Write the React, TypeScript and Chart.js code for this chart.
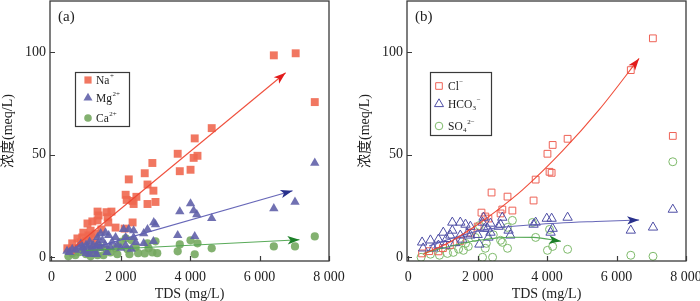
import React, { useEffect, useRef } from 'react';
import { Chart, registerables } from 'chart.js';

Chart.register(...registerables);

// ---------- axis ticks ----------
const xTickValues = [0, 2000, 4000, 6000, 8000];
const xTickLabels = ['0', '2 000', '4 000', '6 000', '8 000'];
const yTickValues = [0, 50, 100];
const yTickLabels = ['0', '50', '100'];

type Pt = [number, number];

// ---------- panel (a): cations, TDS (mg/L) vs meq/L ----------
const naPoints: Pt[] = [
  [6410, 98.5], [7040, 99.5], [7590, 75.7], [4130, 58], [4620, 63], [3640, 50.5], [4100, 48.5],
  [4210, 49.5], [3700, 42], [4010, 42.7], [2910, 46], [2690, 41], [2230, 38], [2770, 35.5],
  [2940, 32.5], [2770, 26], [3000, 27], [2140, 30.5], [2170, 28], [2340, 27.5], [2450, 29.5],
  [2370, 26], [1850, 14.5], [2340, 17], [2110, 14], [1730, 22.3], [1590, 22], [1620, 19.5],
  [1640, 17], [1330, 22.3], [1360, 20.4], [1330, 18], [1180, 17.5], [1440, 13.6], [1040, 16.5],
  [1130, 13], [920, 12], [1270, 11.5], [1070, 10.7], [890, 9.7], [750, 9.2], [840, 7.3],
  [600, 6.8], [460, 4.4], [560, 3.5], [650, 4.5], [1000, 8], [1150, 9.5], [1250, 7],
];
const mgPoints: Pt[] = [
  [7590, 46], [6410, 23.8], [7020, 27], [4620, 19], [4010, 26.2], [4100, 22.8], [4190, 20.9],
  [3700, 22.3], [3640, 10.7], [4130, 10.2], [2950, 17], [3000, 16], [2770, 13.6], [2660, 11.6],
  [2940, 7.8], [2080, 13.6], [2230, 13.6], [2370, 13], [2370, 9.7], [2140, 9.7], [1850, 9.7],
  [1650, 10.7], [1420, 11.6], [1470, 8.3], [2140, 5.8], [2430, 7.3], [2660, 6.8], [1560, 12],
  [1330, 9.7], [450, 3], [520, 2.5], [600, 4], [700, 3.5], [780, 5], [850, 6.5], [900, 4.5],
  [950, 3], [1000, 6], [1050, 5], [1100, 7.5], [1150, 4], [1200, 6], [1250, 3], [1300, 5.5],
  [1350, 7], [1400, 4.5], [1550, 6], [1700, 5], [1750, 7.5], [1900, 6], [1100, 1.5],
  [1300, 1.5], [1600, 2.5], [2000, 4.5], [2300, 4], [1000, 2],
];
const caPoints: Pt[] = [
  [7590, 10.2], [6410, 5.3], [7020, 5.3], [4620, 4.4], [4010, 8.3], [4130, 1.5], [4210, 6.8],
  [3700, 6.3], [3640, 2.9], [3000, 7.8], [2910, 2.4], [2690, 1.9], [2770, 6.8], [2800, 4.4],
  [2430, 4.9], [2190, 3.9], [2140, 9.2], [2310, 8.3], [1850, 4.4], [1700, 2.4], [1420, 4.9],
  [1330, 1], [1130, 0.5], [920, 3.4], [690, 1], [490, 0.5], [2000, 7.5], [2500, 2], [1600, 3.5],
  [1250, 2.5], [1000, 1.5], [800, 2.5], [600, 2], [1500, 1], [1900, 1.5], [2250, 1.5],
  [1150, 4], [3050, 2],
];
const naTrend: Pt[] = [[700, 5.5], [6750, 90]];
const mgTrend: Pt[] = [[1200, 4.6], [6950, 32.5]];
const caTrend: Pt[] = [[1000, 3.3], [7150, 8.6]];

// ---------- panel (b): anions ----------
const clPoints: Pt[] = [
  [7046, 106.8], [6410, 91.3], [7620, 59.2], [4160, 54.8], [4590, 57.8], [4010, 50.5],
  [4070, 41.7], [4130, 41.2], [3670, 37.9], [3610, 27.7], [2400, 31.6], [2860, 29.6],
  [3000, 22.8], [2710, 23.3], [2660, 21.4], [2110, 21.8], [2220, 19.9], [2310, 18.9],
  [400, 1.9], [870, 2.9], [600, 3], [1200, 6], [1500, 8], [1800, 12], [2000, 15], [1000, 4.5],
];
const hco3Points: Pt[] = [
  [7620, 23.3], [6410, 13.1], [7050, 14.6], [4590, 19.4], [3990, 18.9], [4130, 18.9],
  [4160, 14], [4100, 12.1], [3670, 17], [3610, 16], [2710, 19.4], [2660, 16], [2890, 13.1],
  [2940, 10.7], [2370, 16.5], [2370, 12.1], [2280, 14.1], [2600, 15], [1270, 17], [1500, 17],
  [1650, 16], [1790, 15], [2170, 19.4], [2190, 14], [2310, 9.7], [2050, 6.3], [1010, 12.1],
  [1270, 13.1], [1210, 10.7], [640, 8.3], [400, 7.3], [870, 8.7], [1500, 10.7], [1560, 8.7],
  [870, 5.8], [430, 4.4], [720, 4.4], [1070, 5.8], [1790, 10.7], [1100, 9], [1350, 7],
  [2000, 11], [1700, 11.6], [2140, 17],
];
const so4Points: Pt[] = [
  [7620, 46.6], [6410, 1], [7050, 0.5], [4590, 3.9], [4010, 3.4], [4160, 5.3], [3670, 9.7],
  [3000, 18], [2860, 4.4], [2710, 7.3], [2430, 0], [2140, 0], [2220, 4.4], [2250, 6.8],
  [1730, 5.3], [1590, 3.4], [1300, 2.4], [1130, 1.9], [640, 1.5], [370, 0], [3580, 17],
  [4070, 13.6], [2660, 8.3], [2860, 14.6], [2050, 15.5], [1650, 6.8], [1930, 9.7], [900, 1],
  [1450, 4], [2450, 11],
];
const clTrend: Pt[] = [[430, 1.5], [1200, 7.5], [2000, 16], [2570, 23], [3300, 33], [4450, 52], [5500, 72], [6650, 97]];
const hco3Trend: Pt[] = [[600, 5.5], [1400, 10], [2200, 13.5], [3670, 16], [5400, 17.5], [6650, 18.2]];
const so4Trend: Pt[] = [[450, 2], [1000, 4.5], [1600, 7], [2200, 8.7], [2900, 9.8], [3600, 9.7], [4400, 7.8]];

// ---------- styles ----------
const FONT = "'Liberation Serif', 'Times New Roman', 'Noto Sans CJK SC', serif";
const TEXT = '#222';
const FRAME = '#3a3a3a';

const toXY = (a: Pt[]) => a.map(([x, y]) => ({ x, y }));

type Part = { t: string; k: 'n' | 'sup' | 'sub' };
type LegendItem = { marker: 'rect' | 'triangle' | 'circle'; filled: boolean; color: string; y: number; parts: Part[] };
type PanelSpec = {
  label: string;
  xMin: number;
  yAxisWidth: number;
  padRight: number;
  yTitlePad: number;
  box: { x: number; y: number; w: number; h: number };
  markerX: number;
  textX: number;
  legend: LegendItem[];
  datasets: any[];
};

const trend = (data: Pt[], color: string, head: string) => ({
  data: toXY(data),
  showLine: true,
  borderColor: color,
  borderWidth: 1.1,
  pointRadius: 0,
  fill: false,
  cubicInterpolationMode: 'monotone',
  order: 0,
  arrowColor: head,
});

const cRed = 'rgba(240,104,80,0.9)';
const cBlue = 'rgba(98,98,170,0.9)';
const cGreen = 'rgba(118,168,96,0.9)';
const oRed = 'rgb(238,98,86)';
const oBlue = 'rgb(78,78,165)';
const oGreen = 'rgb(125,185,105)';

const panelA: PanelSpec = {
  label: '(a)',
  xMin: -40,
  yAxisWidth: 50,
  padRight: 21,
  yTitlePad: 0,
  box: { x: 75, y: 72, w: 54, h: 54 },
  markerX: 88,
  textX: 96,
  legend: [
    { marker: 'rect', filled: true, color: cRed, y: 80, parts: [{ t: 'Na', k: 'n' }, { t: '+', k: 'sup' }] },
    { marker: 'triangle', filled: true, color: cBlue, y: 98, parts: [{ t: 'Mg', k: 'n' }, { t: '2+', k: 'sup' }] },
    { marker: 'circle', filled: true, color: cGreen, y: 118, parts: [{ t: 'Ca', k: 'n' }, { t: '2+', k: 'sup' }] },
  ],
  datasets: [
    trend(naTrend, 'rgba(238,70,50,0.95)', 'rgb(226,28,28)'),
    trend(mgTrend, 'rgba(95,95,180,0.95)', 'rgb(40,48,140)'),
    trend(caTrend, 'rgba(80,165,80,0.95)', 'rgb(28,128,40)'),
    { data: toXY(mgPoints), pointStyle: 'triangle', pointRadius: 5.4, backgroundColor: cBlue, borderWidth: 0, order: 1 },
    { data: toXY(naPoints), pointStyle: 'rect', pointRadius: 5.6, backgroundColor: cRed, borderWidth: 0, order: 2 },
    { data: toXY(caPoints), pointStyle: 'circle', pointRadius: 4.1, backgroundColor: cGreen, borderWidth: 0, order: 3 },
  ],
};

const panelB: PanelSpec = {
  label: '(b)',
  xMin: -35,
  yAxisWidth: 57,
  padRight: 14,
  yTitlePad: 7,
  box: { x: 80, y: 72, w: 61, h: 63 },
  markerX: 89,
  textX: 98,
  legend: [
    { marker: 'rect', filled: false, color: oRed, y: 86, parts: [{ t: 'Cl', k: 'n' }, { t: '−', k: 'sup' }] },
    { marker: 'triangle', filled: false, color: oBlue, y: 104, parts: [{ t: 'HCO', k: 'n' }, { t: '3', k: 'sub' }, { t: '−', k: 'sup' }] },
    { marker: 'circle', filled: false, color: oGreen, y: 126, parts: [{ t: 'SO', k: 'n' }, { t: '4', k: 'sub' }, { t: '2−', k: 'sup' }] },
  ],
  datasets: [
    trend(clTrend, 'rgba(238,70,50,0.95)', 'rgb(226,28,28)'),
    trend(hco3Trend, 'rgba(95,95,180,0.95)', 'rgb(40,48,140)'),
    trend(so4Trend, 'rgba(80,165,80,0.95)', 'rgb(28,128,40)'),
    { data: toXY(hco3Points), pointStyle: 'triangle', pointRadius: 5.4, backgroundColor: 'rgba(0,0,0,0)', borderColor: oBlue, borderWidth: 1, order: 1 },
    { data: toXY(clPoints), pointStyle: 'rect', pointRadius: 4.8, backgroundColor: 'rgba(0,0,0,0)', borderColor: oRed, borderWidth: 1, order: 2 },
    { data: toXY(so4Points), pointStyle: 'circle', pointRadius: 4, backgroundColor: 'rgba(0,0,0,0)', borderColor: oGreen, borderWidth: 1, order: 3 },
  ],
};

function drawMarker(ctx: CanvasRenderingContext2D, kind: string, x: number, y: number, filled: boolean, color: string) {
  ctx.save();
  ctx.beginPath();
  if (kind === 'rect') {
    const s = filled ? 3.6 : 3.3;
    ctx.rect(x - s, y - s, 2 * s, 2 * s);
  } else if (kind === 'triangle') {
    const r = 5.2;
    ctx.moveTo(x, y - r);
    ctx.lineTo(x + r * 0.866, y + r * 0.5);
    ctx.lineTo(x - r * 0.866, y + r * 0.5);
    ctx.closePath();
  } else {
    ctx.arc(x, y, 3.8, 0, Math.PI * 2);
  }
  if (filled) {
    ctx.fillStyle = color;
    ctx.fill();
  } else {
    ctx.strokeStyle = color;
    ctx.lineWidth = 1;
    ctx.stroke();
  }
  ctx.restore();
}

function makeOverlay(spec: PanelSpec) {
  return {
    id: 'overlay' + spec.label,
    afterDatasetsDraw(chart: any) {
      const ctx: CanvasRenderingContext2D = chart.ctx;
      const { left, right, top, bottom } = chart.chartArea;
      const xs = chart.scales.x;
      const ys = chart.scales.y;
      ctx.save();

      // arrowheads on trend lines
      chart.data.datasets.forEach((ds: any, i: number) => {
        if (!ds.arrowColor) return;
        const meta = chart.getDatasetMeta(i);
        const pts = meta.data;
        const end = pts[pts.length - 1];
        const prev = pts[pts.length - 2];
        let fx = prev.x, fy = prev.y;
        if (end.cp1x !== undefined && isFinite(end.cp1x) && (Math.abs(end.cp1x - end.x) + Math.abs(end.cp1y - end.y)) > 0.5) {
          fx = end.cp1x; fy = end.cp1y;
        }
        const ang = Math.atan2(end.y - fy, end.x - fx);
        const L = 12, W = 4.2;
        ctx.beginPath();
        ctx.moveTo(end.x, end.y);
        ctx.lineTo(end.x - L * Math.cos(ang) + W * Math.sin(ang), end.y - L * Math.sin(ang) - W * Math.cos(ang));
        ctx.lineTo(end.x - L * 0.75 * Math.cos(ang), end.y - L * 0.75 * Math.sin(ang));
        ctx.lineTo(end.x - L * Math.cos(ang) - W * Math.sin(ang), end.y - L * Math.sin(ang) + W * Math.cos(ang));
        ctx.closePath();
        ctx.fillStyle = ds.arrowColor;
        ctx.fill();
      });

      // frame
      ctx.strokeStyle = FRAME;
      ctx.lineWidth = 1.3;
      ctx.strokeRect(left, top, right - left, bottom - top);

      // inner ticks
      ctx.lineWidth = 1.2;
      ctx.beginPath();
      yTickValues.forEach((v) => {
        const y = Math.round(ys.getPixelForValue(v)) + 0.5;
        ctx.moveTo(left, y);
        ctx.lineTo(left + 5, y);
      });
      xTickValues.forEach((v) => {
        const x = Math.round(xs.getPixelForValue(v)) + 0.5;
        ctx.moveTo(x, bottom);
        ctx.lineTo(x, bottom - 5);
      });
      ctx.stroke();

      // panel label
      ctx.fillStyle = TEXT;
      ctx.font = `15px ${FONT}`;
      ctx.textBaseline = 'middle';
      ctx.textAlign = 'left';
      ctx.fillText(spec.label, left + 8, top + 16);

      // legend box
      const b = spec.box;
      ctx.fillStyle = '#fff';
      ctx.fillRect(b.x, b.y, b.w, b.h);
      ctx.strokeStyle = FRAME;
      ctx.lineWidth = 1.2;
      ctx.strokeRect(b.x + 0.5, b.y + 0.5, b.w, b.h);
      spec.legend.forEach((it) => {
        drawMarker(ctx, it.marker, spec.markerX, it.y, it.filled, it.color);
        let x = spec.textX;
        it.parts.forEach((p) => {
          ctx.fillStyle = TEXT;
          if (p.k === 'n') {
            ctx.font = `11.5px ${FONT}`;
            ctx.fillText(p.t, x, it.y + 1);
          } else if (p.k === 'sup') {
            ctx.font = `7px ${FONT}`;
            ctx.fillText(p.t, x + 0.5, it.y - 4);
          } else {
            ctx.font = `7px ${FONT}`;
            ctx.fillText(p.t, x + 0.3, it.y + 4);
          }
          x += ctx.measureText(p.t).width + (p.k === 'n' ? 0 : 0.5);
        });
      });
      ctx.restore();
    },
  };
}

const zeroPad = (s: any) => {
  s.paddingTop = 0;
  s.paddingBottom = 0;
  s.paddingLeft = 0;
  s.paddingRight = 0;
};

function buildConfig(spec: PanelSpec): any {
  return {
    type: 'scatter',
    data: { datasets: spec.datasets },
    options: {
      responsive: false,
      animation: false,
      devicePixelRatio: 1,
      events: [],
      layout: { autoPadding: false, padding: { top: 1, right: spec.padRight, left: 0, bottom: 0 } },
      plugins: { legend: { display: false }, tooltip: { enabled: false } },
      scales: {
        x: {
          type: 'linear',
          min: spec.xMin,
          max: 8000,
          afterBuildTicks: (s: any) => { s.ticks = xTickValues.map((v) => ({ value: v })); },
          afterFit: (s: any) => { s.height = 40; zeroPad(s); },
          grid: { display: false, drawTicks: false },
          border: { display: false },
          ticks: {
            font: { family: FONT, size: 14 },
            color: TEXT,
            padding: 8,
            maxRotation: 0,
            autoSkip: false,
            callback: (v: number) => { const i = xTickValues.indexOf(v); return i >= 0 ? xTickLabels[i] : ''; },
          },
          title: { display: true, text: 'TDS (mg/L)', font: { family: FONT, size: 14 }, color: TEXT, padding: { top: 0, bottom: -2 } },
        },
        y: {
          type: 'linear',
          min: -1.8,
          max: 125,
          afterBuildTicks: (s: any) => { s.ticks = yTickValues.map((v) => ({ value: v })); },
          afterFit: (s: any) => { s.width = spec.yAxisWidth; zeroPad(s); },
          grid: { display: false, drawTicks: false },
          border: { display: false },
          ticks: {
            font: { family: FONT, size: 14 },
            color: TEXT,
            padding: 4,
            autoSkip: false,
            callback: (v: number) => { const i = yTickValues.indexOf(v); return i >= 0 ? yTickLabels[i] : ''; },
          },
          title: { display: true, text: '浓度(meq/L)', font: { family: FONT, size: 14 }, color: TEXT, padding: { top: spec.yTitlePad, bottom: 0 } },
        },
      },
    },
    plugins: [makeOverlay(spec)],
  };
}

function Panel({ spec }: { spec: PanelSpec }) {
  const ref = useRef<HTMLCanvasElement>(null);
  useEffect(() => {
    const chart = new Chart(ref.current as HTMLCanvasElement, buildConfig(spec));
    return () => chart.destroy();
  }, [spec]);
  return <canvas ref={ref} width={350} height={301} style={{ width: 350, height: 301, display: 'block' }} />;
}

export default function App() {
  useEffect(() => {
    document.body.style.margin = '0';
  }, []);
  return (
    <div style={{ position: 'fixed', left: 0, top: 0, width: 700, height: 301, display: 'flex', background: '#fff', overflow: 'hidden' }}>
      <Panel spec={panelA} />
      <Panel spec={panelB} />
    </div>
  );
}
